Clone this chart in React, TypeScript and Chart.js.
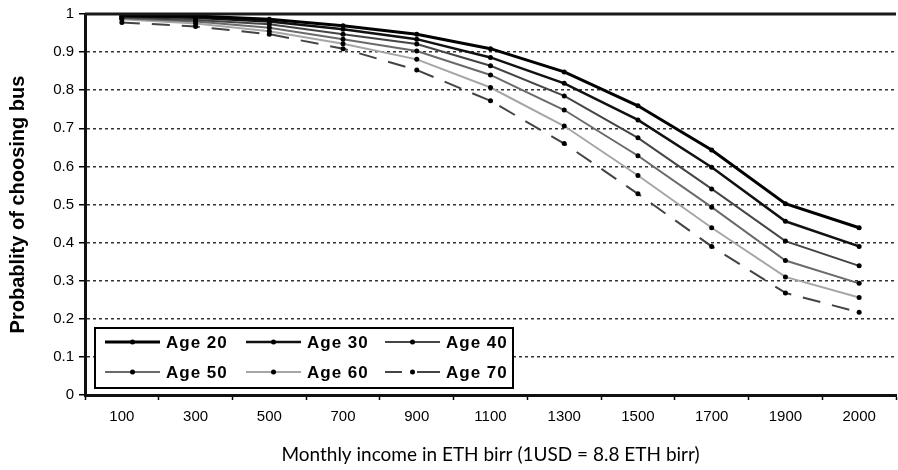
import React, { useEffect, useRef } from 'react';
import { Chart, registerables } from 'chart.js';

Chart.register(...registerables);

const incomeLabels = ['100', '300', '500', '700', '900', '1100', '1300', '1500', '1700', '1900', '2000'];
const seriesNames = ['Age 20', 'Age 30', 'Age 40', 'Age 50', 'Age 60', 'Age 70'];
const age20 = [0.996, 0.995, 0.986, 0.969, 0.947, 0.909, 0.848, 0.759, 0.643, 0.502, 0.439];
const age30 = [0.994, 0.99, 0.98, 0.96, 0.934, 0.886, 0.818, 0.722, 0.598, 0.456, 0.39];
const age40 = [0.991, 0.984, 0.973, 0.947, 0.921, 0.864, 0.785, 0.675, 0.541, 0.404, 0.339];
const age50 = [0.989, 0.98, 0.964, 0.934, 0.903, 0.84, 0.748, 0.628, 0.493, 0.353, 0.293];
const age60 = [0.986, 0.975, 0.955, 0.922, 0.881, 0.807, 0.706, 0.576, 0.439, 0.31, 0.256];
const age70 = [0.978, 0.967, 0.947, 0.909, 0.853, 0.772, 0.66, 0.528, 0.39, 0.268, 0.217];
const seriesValues = [age20, age30, age40, age50, age60, age70];

const yAxisTitle = 'Probablity of choosing bus';
const xAxisTitle = 'Monthly income in ETH birr (1USD = 8.8 ETH birr)';

const lineColors = ['#000000', '#111111', '#454545', '#6a6a6a', '#a6a6a6', '#444444'];
const lineWidths = [3, 2.5, 2, 2, 2, 2];
const lineDashes: number[][] = [[], [], [], [], [], [18, 12]];

const legendPlugin = {
  id: 'insideLegend',
  afterDatasetsDraw(chart: any) {
    const { ctx, chartArea } = chart;
    ctx.save();
    // top border of plot
    ctx.strokeStyle = '#1a1a1a';
    ctx.lineWidth = 3;
    ctx.setLineDash([]);
    ctx.beginPath();
    ctx.moveTo(chartArea.left, chartArea.top);
    ctx.lineTo(chartArea.right, chartArea.top);
    ctx.stroke();

    const bx = chartArea.left + 10;
    const by = chartArea.bottom - 67;
    const bw = 418;
    const bh = 60;
    ctx.fillStyle = '#ffffff';
    ctx.fillRect(bx, by, bw, bh);
    ctx.strokeStyle = '#000';
    ctx.lineWidth = 2;
    ctx.strokeRect(bx, by, bw, bh);

    const colOff = [10, 151, 290];
    const rowOff = [14, 44];
    ctx.font = 'bold 17px "Liberation Sans", Arial, sans-serif';
    ctx.textBaseline = 'middle';
    ctx.textAlign = 'left';
    try { (ctx as any).letterSpacing = '1px'; } catch (e) {}
    chart.data.datasets.forEach((ds: any, i: number) => {
      const col = i % 3;
      const row = Math.floor(i / 3);
      const x0 = bx + colOff[col];
      const y0 = by + rowOff[row];
      const len = 55;
      ctx.strokeStyle = ds.borderColor;
      ctx.lineWidth = ds.borderWidth;
      ctx.setLineDash(ds.borderDash && ds.borderDash.length ? [17, 15, 23] : []);
      ctx.beginPath();
      ctx.moveTo(x0, y0);
      ctx.lineTo(x0 + len, y0);
      ctx.stroke();
      ctx.setLineDash([]);
      ctx.fillStyle = '#000';
      ctx.beginPath();
      ctx.arc(x0 + len / 2, y0, 2.5, 0, Math.PI * 2);
      ctx.fill();
      ctx.fillStyle = '#000';
      ctx.fillText(ds.label, x0 + len + 6, y0 + 1);
    });
    ctx.restore();
  },
};

export default function App() {
  const canvasRef = useRef<HTMLCanvasElement | null>(null);

  useEffect(() => {
    if (!canvasRef.current) return;
    const chart = new Chart(canvasRef.current, {
      type: 'line',
      data: {
        labels: incomeLabels,
        datasets: seriesNames.map((name, i) => ({
          label: name,
          data: seriesValues[i],
          borderColor: lineColors[i],
          borderWidth: lineWidths[i],
          borderDash: lineDashes[i],
          pointRadius: 2.5,
          pointBackgroundColor: '#000',
          pointBorderWidth: 0,
          pointBorderColor: '#000',
          tension: 0,
          fill: false,
        })),
      },
      options: {
        responsive: false,
        animation: false,
        layout: { padding: { top: 13, right: 0, bottom: 0, left: 0 } },
        plugins: {
          legend: { display: false },
          tooltip: { enabled: false },
        },
        scales: {
          x: {
            type: 'category',
            offset: true,
            afterFit: (scale: any) => { scale.height = 75; },
            grid: {
              offset: true,
              drawOnChartArea: false,
              drawTicks: true,
              tickLength: 5,
              tickColor: '#000',
              tickWidth: 1.5,
            },
            border: { display: true, color: '#111', width: 3 },
            ticks: {
              color: '#000',
              padding: 8,
              maxRotation: 0,
              autoSkip: false,
              font: { family: '"Liberation Sans", Arial, sans-serif', size: 15 },
            },
            title: {
              display: true,
              text: xAxisTitle,
              color: '#000',
              font: { family: 'Lato, "Open Sans", sans-serif', size: 19 },
              padding: { top: 0, bottom: 4 },
            },
          },
          y: {
            min: 0,
            max: 1,
            afterFit: (scale: any) => { scale.width = 85; },
            grid: {
              color: '#333',
              lineWidth: 1.5,
              drawTicks: true,
              tickLength: 6,
              tickColor: '#000',
              tickWidth: 1.5,
              tickBorderDash: [],
            },
            border: { display: true, color: '#111', width: 3, dash: [3, 3] },
            ticks: {
              stepSize: 0.1,
              color: '#000',
              padding: 5,
              font: { family: '"Liberation Sans", Arial, sans-serif', size: 15 },
              callback: (v: any) => String(Number(Number(v).toFixed(1))),
            },
            title: {
              display: true,
              text: yAxisTitle,
              color: '#000',
              font: { family: '"Liberation Sans", Arial, sans-serif', size: 20, weight: 'bold' },
              padding: { top: 6, bottom: 0 },
            },
          },
        },
      },
      plugins: [legendPlugin],
    });
    return () => chart.destroy();
  }, []);

  return (
    <div style={{ position: 'fixed', left: 0, top: 0, width: 898, height: 470, overflow: 'hidden', background: '#fff' }}>
      <canvas ref={canvasRef} width={900} height={470} style={{ display: 'block' }} />
    </div>
  );
}
